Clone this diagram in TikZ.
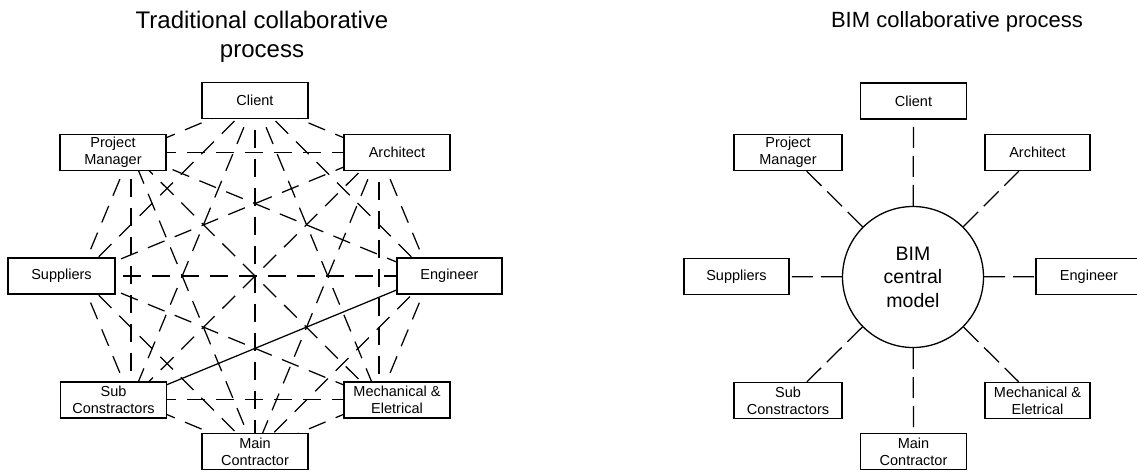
\documentclass[tikz,border=0pt]{standalone}
\usepackage{fontspec}
\setmainfont{Liberation Sans}
\usepackage{tikz}
\tikzstyle{box}=[
	rectangle,
	draw=black,
	fill=white,
	line width=1.3pt,
	minimum width=106pt,
	minimum height=36pt,
	inner sep=0pt,
	align=center,
	font=\fontsize{14.5}{17}\selectfont
]
\tikzstyle{link}=[
	-,
	draw=black,
	line width=1.25pt,
	dash pattern=on 18pt off 11pt
]
\tikzstyle{solidlink}=[
	-,
	draw=black,
	line width=1.25pt
]
\tikzstyle{bimlink}=[
	link,
	dash pattern=on 21pt off 8pt
]
\tikzstyle{model}=[
	circle,
	draw=black,
	line width=1.3pt,
	minimum size=141pt,
	inner sep=0pt,
	align=center,
	font=\fontsize{19.5}{23.5}\selectfont
]
\tikzstyle{heading}=[
	align=center,
	inner sep=0pt,
	font=\fontsize{24}{29}\selectfont
]

\begin{document}
\begin{tikzpicture}[x=1pt, y=-1pt]
\useasboundingbox (0,0) rectangle (1137,471);

% traditional process: every party linked to every other
\node[heading] (ttitle) at (262,37) {Traditional collaborative\\process};

\foreach \x/\y/\n in {255/100.5/1, 379/152.5/2, 430.5/276/3, 379/399.5/4,
                      255/451.5/5, 131/399.5/6, 79.5/276/7, 131/152.5/8}{
    \coordinate (h\n) at (\x, \y);
}

\foreach \i in {1,...,7}{
    \pgfmathtruncatemacro{\k}{\i+1}
    \foreach \j in {\k,...,8}{
        \def\linkstyle{link}
        \ifnum\i=3 \ifnum\j=6 \def\linkstyle{solidlink}\fi\fi
        \draw[\linkstyle] (h\i) -- (h\j);
    }
}

\node[box] at (255, 100.5) (lclient) {Client};
\node[box] at (113, 152.5) (lpm) {Project\\Manager};
\node[box] at (397, 152.5) (larch) {Architect};
\node[box, minimum width=107pt] at (61.5, 276) (lsup) {Suppliers};
\node[box, minimum width=105pt] at (449.5, 276) (leng) {Engineer};
\node[box] at (113.5, 400) (lsub) {Sub\\Constractors};
\node[box] at (397, 400) (lmech) {Mechanical \&\\Eletrical};
\node[box] at (255, 451.5) (lmain) {Main\\Contractor};

% BIM process: every party linked to the central model
\node[heading, font=\fontsize{22}{27}\selectfont] (btitle) at (957,22) {BIM collaborative process};

\node[model] at (913, 277) (bim) {BIM\\central\\model};

\node[box] at (913.5, 101) (rclient) {Client};
\node[box, minimum width=108pt] at (788, 152.5) (rpm) {Project\\Manager};
\node[box, minimum width=105pt] at (1037.5, 152.5) (rarch) {Architect};
\node[box, minimum width=105pt] at (736.5, 276.5) (rsup) {Suppliers};
\node[box] at (1089, 276.5) (reng) {Engineer};
\node[box, minimum width=108pt] at (788, 400.5) (rsub) {Sub\\Constractors};
\node[box, minimum width=105pt] at (1037.5, 400.5) (rmech) {Mechanical \&\\Eletrical};
\node[box] at (913.5, 451.5) (rmain) {Main\\Contractor};

\foreach \n in {rclient, rpm, rarch, rsup, reng, rsub, rmech, rmain}{
    \draw[bimlink] (bim) -- (\n);
}

\end{tikzpicture}
\end{document}
